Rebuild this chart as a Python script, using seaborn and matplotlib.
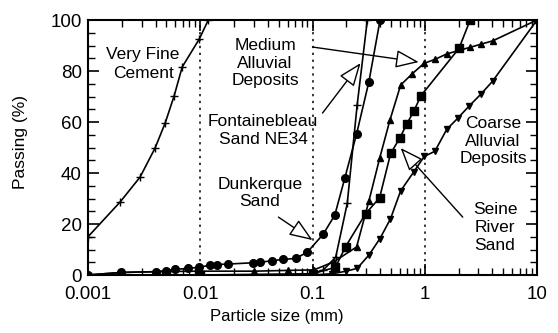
import matplotlib
matplotlib.use("Agg")
import matplotlib.pyplot as plt
import seaborn as sns
import numpy as np
import pandas as pd
from matplotlib.ticker import LogLocator, MultipleLocator, NullFormatter

sns.set_style("ticks")
plt.rcParams['font.family'] = ['Liberation Sans', 'DejaVu Sans']
plt.rcParams['text.color'] = 'black'
plt.rcParams['axes.labelcolor'] = 'black'

# ---- data (particle size in mm, passing in %) ----
cement_d = [0.001, 0.00193, 0.00291, 0.00396, 0.00487, 0.00585, 0.00691, 0.00979, 0.0118]
cement_p = [15, 28.6, 38.4, 49.8, 59.6, 70.2, 81.6, 92.5, 100]

dunk_d = [0.001, 0.00196, 0.004, 0.005, 0.006, 0.0078, 0.0098, 0.0123, 0.014, 0.0178,
          0.0296, 0.0344, 0.0435, 0.0547, 0.0706, 0.0897, 0.1246, 0.158, 0.194, 0.247, 0.318, 0.40]
dunk_p = [0, 1.0, 1.3, 1.7, 2.2, 2.6, 3.0, 3.9, 4.1, 4.3,
          4.8, 5.0, 5.6, 6.1, 6.5, 8.9, 16.0, 23.5, 38.0, 55.3, 75.8, 100]

font_d = [0.08, 0.1, 0.125, 0.161, 0.204, 0.25, 0.308]
font_p = [0, 0.5, 2.0, 7.0, 28.1, 66.7, 100]

medium_d = [0.001, 0.002, 0.004, 0.01, 0.03, 0.06, 0.103, 0.155, 0.247, 0.318, 0.396, 0.49,
            0.61, 0.777, 0.986, 1.24, 1.57, 2.54, 3.16, 4.02, 10]
medium_p = [0, 1.0, 1.3, 1.5, 1.5, 1.8, 2.0, 5.2, 11.0, 29.0, 45.7, 60.8,
            74.5, 79.0, 83.0, 84.6, 86.7, 89.3, 90.5, 91.8, 100]

seine_d = [0.005, 0.01, 0.1, 0.16, 0.197, 0.297, 0.396, 0.497, 0.598, 0.691, 0.803, 0.921, 2.02, 2.54]
seine_p = [0, 0, 0.5, 3.0, 11.1, 24.0, 30.3, 47.7, 53.6, 59.2, 64.4, 70.2, 88.9, 100]

coarse_d = [0.1, 0.15, 0.2, 0.25, 0.318, 0.399, 0.495, 0.61, 0.8, 0.99, 1.23, 1.57,
            1.96, 2.49, 3.16, 4.02, 10]
coarse_p = [0, 0.5, 1.5, 2.6, 7.8, 14.3, 22.0, 33.0, 40.5, 46.5, 48.5, 57.1,
            61.4, 66.3, 70.9, 76.0, 100]

series = [
    ("Very Fine Cement", cement_d, cement_p, "+", 6),
    ("Dunkerque Sand", dunk_d, dunk_p, "o", 5.5),
    ("Fontainebleau Sand NE34", font_d, font_p, "+", 6),
    ("Medium Alluvial Deposits", medium_d, medium_p, "^", 4.5),
    ("Seine River Sand", seine_d, seine_p, "s", 5.5),
    ("Coarse Alluvial Deposits", coarse_d, coarse_p, "v", 4.5),
]

xtick_vals = [0.001, 0.01, 0.1, 1, 10]
xtick_labels = ["0.001", "0.01", "0.1", "1", "10"]
ytick_vals = [0, 20, 40, 60, 80, 100]

W, H = 558, 333
fig = plt.figure(figsize=(W / 100, H / 100), dpi=100)
ax = fig.add_axes([88 / W, (H - 275) / H, 449 / W, 255 / H])

for name, d, p, m, ms in series:
    df = pd.DataFrame({"d": d, "p": p})
    sns.lineplot(data=df, x="d", y="p", ax=ax, color="black", marker=m,
                 markersize=ms, markeredgecolor="black", markerfacecolor="black",
                 markeredgewidth=1.0, linewidth=1.2, sort=False, estimator=None,
                 errorbar=None)

ax.set_xscale("log")
ax.set_xlim(0.001, 10)
ax.set_ylim(0, 100)
ax.set_xticks(xtick_vals)
ax.set_xticklabels(xtick_labels)
ax.xaxis.set_minor_locator(LogLocator(base=10, subs=np.arange(2, 10)))
ax.xaxis.set_minor_formatter(NullFormatter())
ax.set_yticks(ytick_vals)
ax.yaxis.set_minor_locator(MultipleLocator(5))

ax.tick_params(which="both", direction="in", top=True, right=True, colors="black",
               labelsize=13.5)
ax.tick_params(which="major", length=8, width=1.2)
ax.tick_params(which="minor", length=5, width=1.0)
ax.tick_params(axis="x", which="major", pad=8)
ax.tick_params(axis="y", which="major", pad=4.5)

for v in [0.01, 0.1, 1]:
    ax.axvline(v, color="black", linestyle=(0, (1.5, 3)), linewidth=1.1, zorder=0)

for s in ax.spines.values():
    s.set_linewidth(1.5)
    s.set_color("black")

ax.set_xlabel("Particle size (mm)", fontsize=12, color="black")
ax.set_ylabel("Passing (%)", fontsize=12.5, color="black")
ax.xaxis.set_label_coords(0.421, -0.135)
ax.yaxis.set_label_coords(-0.134, 0.52)

def fpos(px, py):
    return (px / W, 1 - py / H)

labels = [
    ("Very Fine\nCement", 143, 64),
    ("Medium\nAlluvial\nDeposits", 265, 63),
    ("Fontainebleau\nSand NE34", 263, 130),
    ("Dunkerque\nSand", 260, 193),
    ("Coarse\nAlluvial\nDeposits", 493, 141),
    ("Seine\nRiver\nSand", 495, 228),
]
for txt, px, py in labels:
    fig.text(*fpos(px, py), txt, ha="center", va="center", fontsize=12.5,
             linespacing=1.25, color="black")

arrows = [
    ((0.884, 83.5), (0.100, 89.4)),
    ((0.268, 83.1), (0.1228, 63.5)),
    ((0.100, 13.7), (0.0497, 22.7)),
    ((0.61, 49.8), (2.18, 22.7)),
]
for tip, start in arrows:
    ax.annotate("", xy=tip, xytext=start, xycoords="data", textcoords="data",
                arrowprops=dict(arrowstyle="-|>,head_length=0.9,head_width=0.35",
                                fc="white", ec="black", lw=1.0, mutation_scale=16,
                                shrinkA=0, shrinkB=0))

fig.savefig("out.png", dpi=100)
